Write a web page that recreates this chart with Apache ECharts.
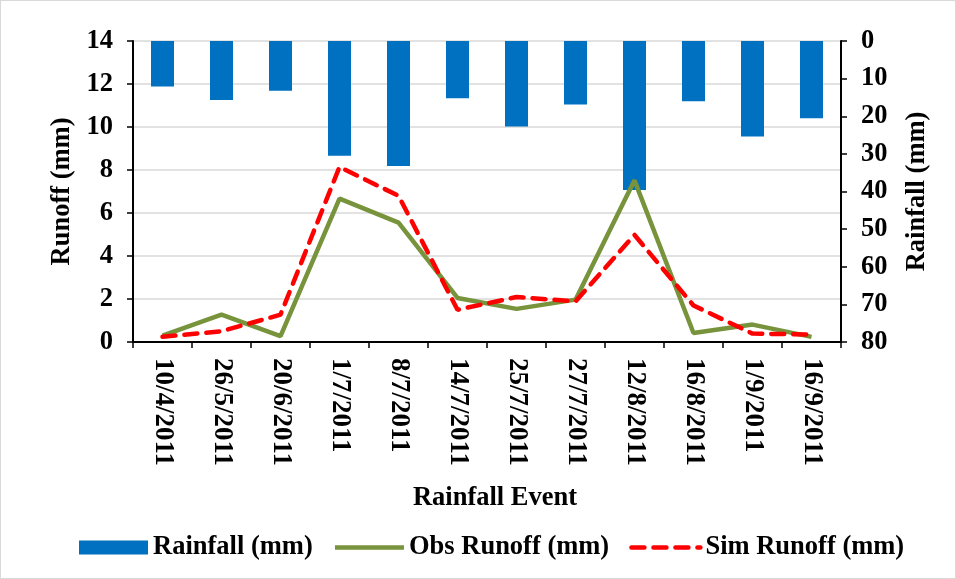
<!DOCTYPE html>
<html><head><meta charset="utf-8">
<script src="https://cdn.jsdelivr.net/npm/echarts@6/dist/echarts.min.js"></script>
<style>html,body{margin:0;padding:0;background:#fff}#c{width:956px;height:579px;box-sizing:border-box;border:1px solid #d9d9d9}</style>
</head><body><div id="c"></div>
<script>
const categories = ['10/4/2011','26/5/2011','20/6/2011','1/7/2011','8/7/2011','14/7/2011','25/7/2011','27/7/2011','12/8/2011','16/8/2011','1/9/2011','16/9/2011'];
const rainfall = [12.1, 15.7, 13.2, 30.5, 33.2, 15.2, 22.7, 16.9, 39.6, 16.0, 25.4, 20.5];
const obsRunoff = [0.3, 1.27, 0.27, 6.67, 5.55, 2.05, 1.54, 1.97, 7.52, 0.42, 0.81, 0.24];
const simRunoff = [0.24, 0.5, 1.27, 8.14, 6.8, 1.5, 2.09, 1.89, 4.98, 1.7, 0.39, 0.35];

const font = 'Liberation Serif';
const fs = 26.5;
const txt = { fontFamily: font, fontWeight: 'bold', fontSize: fs, color: '#000' };
const dash = [13, 9];
const chart = echarts.init(document.getElementById('c'));
chart.setOption({
  animation: false,
  textStyle: { fontFamily: font },
  grid: { left: 132, right: 114, top: 40, bottom: 236 },
  legend: {
    bottom: 12, left: 73, itemGap: 20, itemWidth: 69, itemHeight: 14,
    textStyle: txt,
    data: [
      { name: 'Rainfall (mm)', icon: 'rect' },
      { name: 'Obs Runoff (mm)', itemStyle: { color: 'rgba(0,0,0,0)', borderWidth: 0 },
        lineStyle: { color: '#77933C', width: 4.5 } },
      { name: 'Sim Runoff (mm)', itemStyle: { color: 'rgba(0,0,0,0)', borderWidth: 0 },
        lineStyle: { color: '#FF0000', width: 4.5, type: dash, cap: 'round' } }
    ]
  },
  xAxis: {
    type: 'category', data: categories,
    name: 'Rainfall Event', nameLocation: 'middle', nameGap: 143,
    nameTextStyle: Object.assign({}, txt, { padding: [0, 0, 0, 16] }),
    axisLine: { lineStyle: { color: '#000', width: 2 } },
    axisTick: { show: true, length: 6, lineStyle: { color: '#000', width: 1.5 } },
    axisLabel: Object.assign({}, txt, { rotate: -90, interval: 0, margin: 16, fontSize: 27 })
  },
  yAxis: [
    {
      type: 'value', min: 0, max: 14, interval: 2,
      name: 'Runoff (mm)', nameLocation: 'middle', nameGap: 57,
      nameTextStyle: txt,
      axisLine: { show: true, lineStyle: { color: '#000', width: 2 } },
      axisTick: { show: true, length: 6, lineStyle: { color: '#000', width: 1.5 } },
      axisLabel: Object.assign({ margin: 20 }, txt),
      splitLine: { show: true, lineStyle: { color: '#d9d9d9', width: 1.5 } }
    },
    {
      type: 'value', min: 0, max: 80, interval: 10, inverse: true, position: 'right',
      name: 'Rainfall (mm)', nameLocation: 'middle', nameGap: 63, nameRotate: 90,
      nameTextStyle: txt,
      axisLine: { show: true, lineStyle: { color: '#000', width: 2 } },
      axisTick: { show: true, length: 6, lineStyle: { color: '#000', width: 1.5 } },
      axisLabel: Object.assign({ margin: 20 }, txt),
      splitLine: { show: false }
    }
  ],
  series: [
    { name: 'Rainfall (mm)', type: 'bar', yAxisIndex: 1, data: rainfall, barWidth: 23,
      itemStyle: { color: '#0070C0' }, z: 1 },
    { name: 'Obs Runoff (mm)', type: 'line', yAxisIndex: 0, data: obsRunoff, symbol: 'none',
      lineStyle: { color: '#77933C', width: 4.5 }, itemStyle: { color: '#77933C' }, z: 2 },
    { name: 'Sim Runoff (mm)', type: 'line', yAxisIndex: 0, data: simRunoff, symbol: 'none',
      lineStyle: { color: '#FF0000', width: 4.5, type: dash, cap: 'round' }, itemStyle: { color: '#FF0000' }, z: 3 }
  ]
});
</script></body></html>
